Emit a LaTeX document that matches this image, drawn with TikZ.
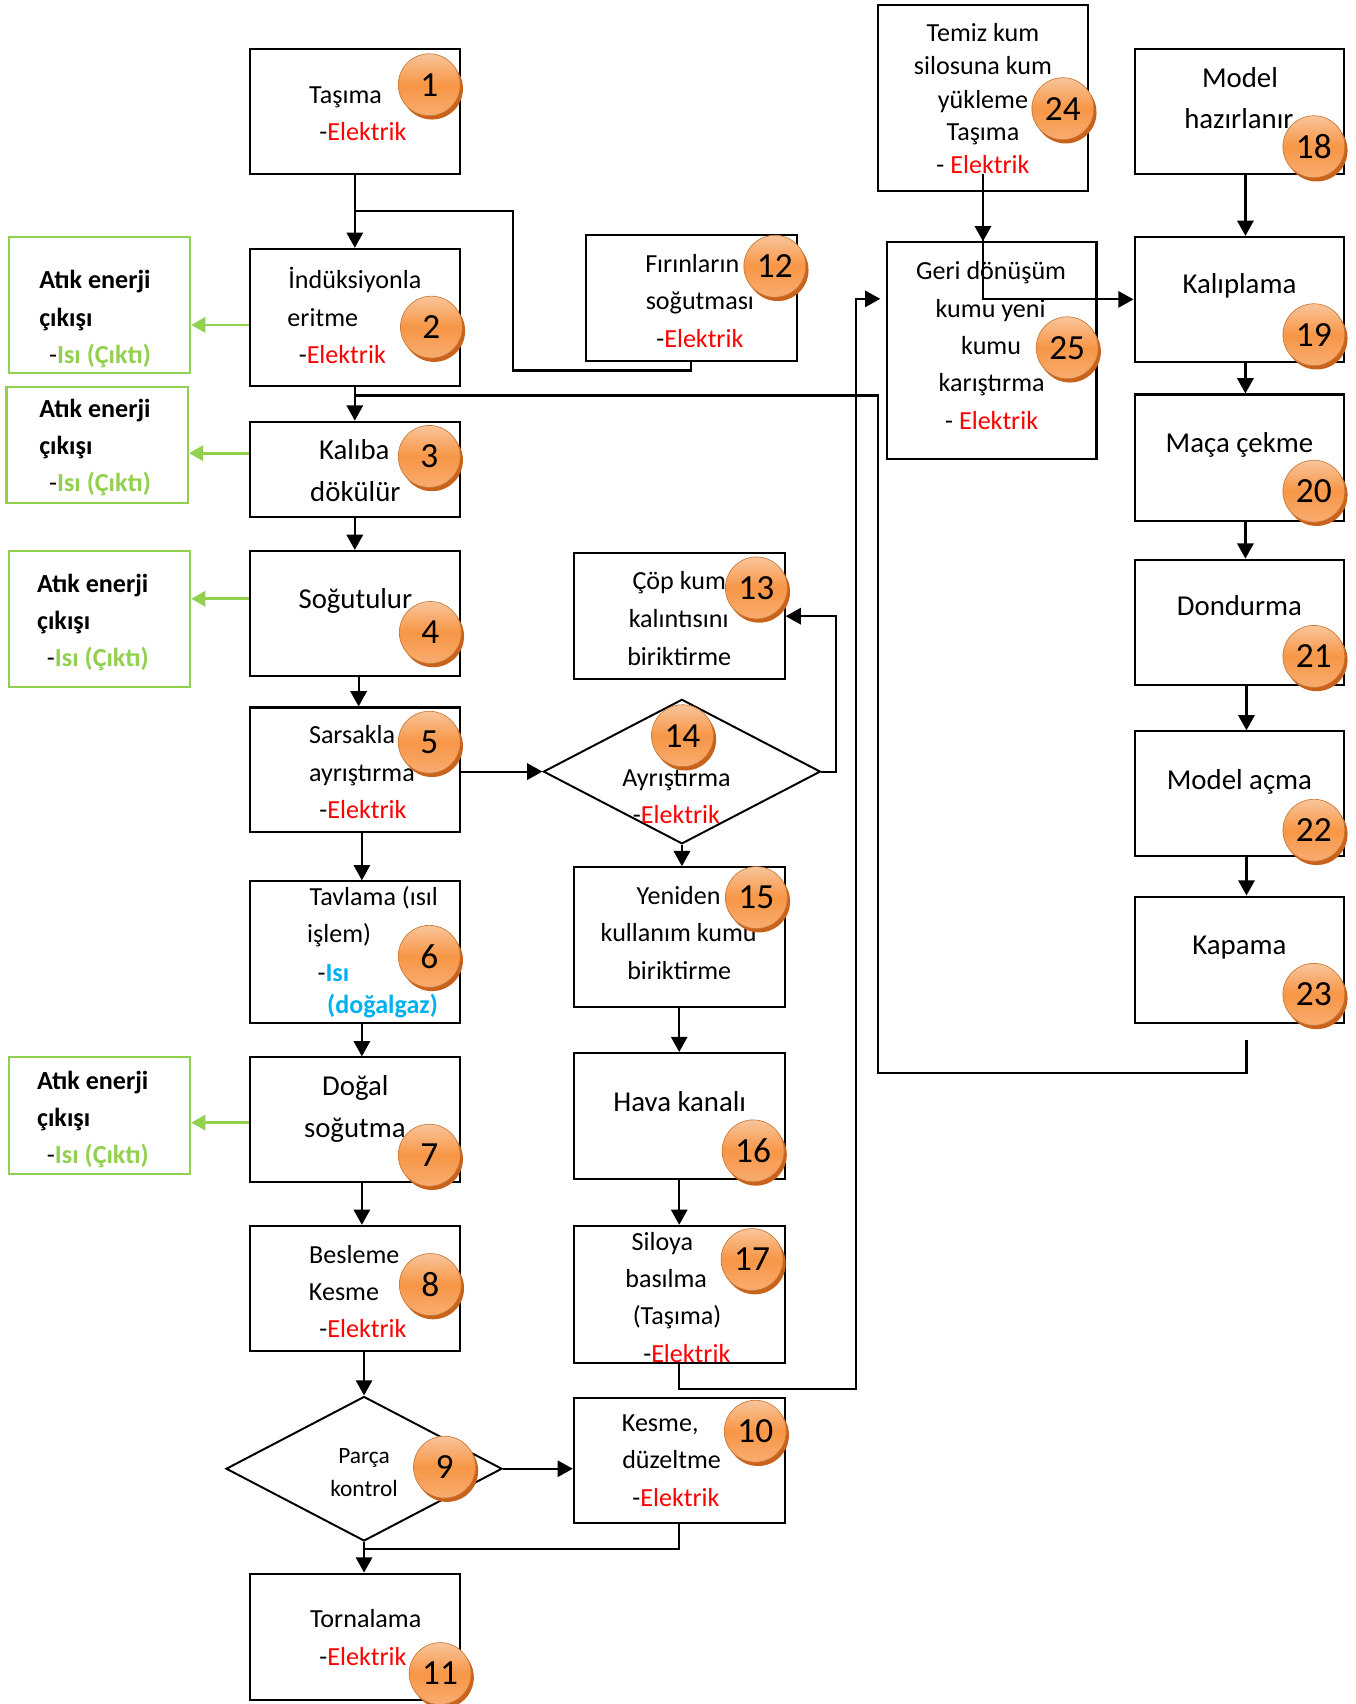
\documentclass[tikz,border=0pt]{standalone}
\usepackage{fontspec}
\setmainfont{Carlito}
\usetikzlibrary{arrows.meta,shapes.geometric,shadows}
\definecolor{elred}{HTML}{FF0000}
\definecolor{heatgreen}{HTML}{92D050}
\definecolor{gasblue}{HTML}{00B0F0}
\definecolor{orA}{HTML}{F9C49A}
\definecolor{orB}{HTML}{F79646}
\definecolor{orC}{HTML}{F8AC70}
\definecolor{orD}{HTML}{C9621A}
\newcommand\El{-\textcolor{elred}{Elektrik}}
\newcommand\Heat{\mdseries-\textcolor{heatgreen}{\bfseries Isı (Çıktı)}}
\newcommand\bx[6][]{\node[box,#1,minimum width={(#5)-(#3)},minimum height={(#6)-(#4)}] (#2) at ({((#3)+(#5))/2},{((#4)+(#6))/2}) {};}
\newcommand\tx[5][]{\node[txt,#1] (#2) at (#3,{#4+8.5}) {#5};}
\newcommand\nb[4]{\node[numc] (#1) at (#2,#3) {#4};}
\tikzset{
  box/.style={draw=black,line width=1.9pt,inner sep=0pt},
  gbox/.style={draw=heatgreen,line width=2pt,inner sep=0pt},
  txt/.style={anchor=base,inner sep=0pt,font=\fontsize{24}{29}\selectfont},
  big/.style={font=\fontsize{26.5}{32}\selectfont},
  small/.style={font=\fontsize{21.5}{26}\selectfont},
  gtxt/.style={anchor=base west,inner sep=0pt,font=\fontsize{24}{29}\selectfont\bfseries},
  numc/.style={circle,minimum size=57pt,inner sep=0pt,draw=orB!80!black,line width=0.6pt,
    top color=orA,bottom color=orC,middle color=orB,
    drop shadow={shadow xshift=2.5pt,shadow yshift=-3.5pt,fill=orD,opacity=1},
    font=\fontsize{32.5}{33}\selectfont},
  conn/.style={draw=black,line width=2pt},
  arr/.style={conn,-{Triangle[length=14pt,width=15pt]}},
  garr/.style={draw=heatgreen,line width=2.5pt,-{Triangle[length=13pt,width=14pt]}}
}
\begin{document}
\begin{tikzpicture}[x=1pt,y=-1pt]
\useasboundingbox (0,0) rectangle (1247,1568);
% ---- boxes ----
\bx{b1}{230}{45}{423}{160}
\bx{b2}{230}{229}{423}{355}
\bx{b3}{230}{388}{423}{476}
\bx{b4}{230}{507}{423}{622}
\bx{b5}{230}{651}{423}{766}
\bx{b6}{230}{811}{423}{941}
\bx{b7}{230}{973}{423}{1088}
\bx{b8}{230}{1128}{423}{1243}
\node[diamond,draw=black,line width=1.8pt,inner sep=0pt,minimum width=254pt,minimum height=133pt] (d9) at (335,1351.5) {};
\bx{b10}{528}{1286}{722}{1401}
\bx{b11}{230}{1448}{423}{1564}
\bx{b12}{539}{216}{733}{332}
\bx{b13}{528}{509}{722}{625}
\node[diamond,draw=black,line width=1.8pt,inner sep=0pt,minimum width=255pt,minimum height=133pt] (d14) at (627.5,710) {};
\bx{b15}{528}{798}{722}{927}
\bx{b16}{528}{969}{722}{1085}
\bx{b17}{528}{1128}{722}{1254}
\bx{b24}{808}{5}{1001}{176}
\bx{b25}{816}{223}{1009}{422}
\bx{b18}{1044}{45}{1237}{160}
\bx{b19}{1044}{218}{1237}{333}
\bx{b20}{1044}{363}{1237}{479}
\bx{b21}{1044}{515}{1237}{630}
\bx{b22}{1044}{673}{1237}{788}
\bx{b23}{1044}{825}{1237}{941}
\bx[gbox]{g1}{8}{218}{175}{343}
\bx[gbox]{g2}{6}{356}{173}{463}
\bx[gbox]{g3}{8}{507}{175}{632}
\bx[gbox]{g4}{8}{973}{175}{1080}
% ---- texts ----
\tx{t1a}{318}{87}{Taşıma}
\tx{t1b}{334}{121}{\El}
\tx{t2a}{326.5}{257}{İndüksiyonla}
\tx{t2b}{297}{292}{eritme}
\tx{t2c}{315}{326}{\El}
\tx[big]{t3a}{326}{414}{Kalıba}
\tx[big]{t3b}{327}{453}{dökülür}
\tx[big]{t4a}{327}{551}{Soğutulur}
\tx{t5a}{324}{676}{Sarsakla}
\tx{t5b}{333}{711}{ayrıştırma}
\tx{t5c}{334}{745}{\El}
\tx{t6a}{344}{825}{Tavlama (ısıl}
\tx{t6b}{312}{859}{işlem)}
\tx[anchor=base west]{t6c}{292}{895}{-\textcolor{gasblue}{\bfseries Isı}}
\tx{t6d}{352}{924}{\textcolor{gasblue}{\bfseries (doğalgaz)}}
\tx[big]{t7a}{327}{1000}{Doğal}
\tx[big]{t7b}{326.5}{1038}{soğutma}
\tx{t8a}{326}{1154}{Besleme}
\tx{t8b}{316.5}{1188}{Kesme}
\tx{t8c}{334}{1222}{\El}
\tx[small]{t9a}{335}{1338}{Parça}
\tx[small]{t9b}{335}{1369}{kontrol}
\tx{t10a}{607.5}{1309}{Kesme,}
\tx{t10b}{618}{1343}{düzeltme}
\tx{t10c}{622}{1378}{\El}
\tx{t11a}{336.5}{1489}{Tornalama}
\tx{t11b}{334}{1524}{\El}
\tx{t12a}{637}{242}{Fırınların}
\tx{t12b}{644}{276}{soğutması}
\tx{t12c}{644}{311}{\El}
\tx{t13a}{625}{534}{Çöp kum}
\tx{t13b}{624.5}{569}{kalıntısını}
\tx{t13c}{625}{604}{biriktirme}
\tx{t14a}{622.5}{715}{Ayrıştırma}
\tx{t14b}{622.5}{749}{\El}
\tx{t15a}{624.5}{824}{Yeniden}
\tx{t15b}{624.5}{858}{kullanım kumu}
\tx{t15c}{625}{893}{biriktirme}
\tx[big]{t16a}{625.5}{1014}{Hava kanalı}
\tx{t17a}{609.5}{1142}{Siloya}
\tx{t17b}{613}{1176}{basılma}
\tx{t17c}{623}{1210}{(Taşıma)}
\tx{t17d}{632}{1245}{\El}
\tx{t24a}{904.5}{30}{Temiz kum}
\tx{t24b}{904.5}{60}{silosuna kum}
\tx{t24c}{904.5}{91}{yükleme}
\tx{t24d}{904.5}{121}{Taşıma}
\tx{t24e}{904.5}{151}{- \textcolor{elred}{Elektrik}}
\tx{t25a}{912}{249}{Geri dönüşüm}
\tx{t25b}{911.5}{284}{kumu yeni}
\tx{t25c}{912}{318}{kumu}
\tx{t25d}{912.5}{352}{karıştırma}
\tx{t25e}{912.5}{387}{- \textcolor{elred}{Elektrik}}
\tx[big]{t18a}{1141}{72}{Model}
\tx[big]{t18b}{1140}{110}{hazırlanır}
\tx[big]{t19a}{1140.5}{262}{Kalıplama}
\tx[big]{t20a}{1140.5}{408}{Maça çekme}
\tx[big]{t21a}{1140.5}{558}{Dondurma}
\tx[big]{t22a}{1140.5}{718}{Model açma}
\tx[big]{t23a}{1140.5}{870}{Kapama}
% green texts
\tx[gtxt]{g1a}{36}{257}{Atık enerji}
\tx[gtxt]{g1b}{36}{292}{çıkışı}
\tx[gtxt]{g1c}{45}{326}{\Heat}
\tx[gtxt]{g2a}{36}{376}{Atık enerji}
\tx[gtxt]{g2b}{36}{410}{çıkışı}
\tx[gtxt]{g2c}{45}{444}{\Heat}
\tx[gtxt]{g3a}{34}{537}{Atık enerji}
\tx[gtxt]{g3b}{34}{571}{çıkışı}
\tx[gtxt]{g3c}{43}{605}{\Heat}
\tx[gtxt]{g4a}{34}{994}{Atık enerji}
\tx[gtxt]{g4b}{34}{1028}{çıkışı}
\tx[gtxt]{g4c}{43}{1062}{\Heat}
% ---- connectors ----
\draw[arr] (b1.south) -- (b2.north);
\coordinate (j1) at (326.5,194);
\draw[conn] (j1) -| (472,341) -| (b12.south);
\draw[arr] (b2.south) -- (b3.north);
\coordinate (j2) at (326.5,364);
\coordinate (k23) at (1147,957);
\draw[conn] (j2) -| (808,987) -| (k23);
\draw[arr] (b3.south) -- (b4.north);
\draw[arr] ([xshift=3.5pt]b4.south) -- ([xshift=3.5pt]b5.north);
\draw[arr] ([xshift=6.5pt]b5.south) -- ([xshift=6.5pt]b6.north);
\draw[arr] ([xshift=6.5pt]b6.south) -- ([xshift=6.5pt]b7.north);
\draw[arr] ([xshift=6.5pt]b7.south) -- ([xshift=6.5pt]b8.north);
\draw[arr] ([xshift=8.5pt]b8.south) -- (d9.north);
\draw[arr] (d14.west -| b5.east) -- (d14.west);
\draw[arr] (d14.east) -- ++(13,0) |- (b13.east);
\draw[arr] (d14.south) -- (d14.south |- b15.north);
\draw[arr] (b15.south) -- (b16.north);
\draw[arr] (b16.south) -- (b17.north);
\coordinate (c25) at (810,275);
\draw[arr] (b17.south) |- (788,1278) |- (c25);
\draw[arr] (d9.east) -- (d9.east -| b10.west);
\coordinate (j9) at (335,1425);
\draw[conn] (b10.south) |- (j9);
\draw[arr] (d9.south) -- (d9.south |- b11.north);
\coordinate (s24) at (904.5,160);
\draw[arr] (s24) |- (b19.west);
\draw[arr] (s24) -- (s24 |- b25.north);
\draw[arr] ([xshift=5.5pt]b18.south) -- ([xshift=5.5pt]b19.north);
\draw[arr] ([xshift=5.5pt]b19.south) -- ([xshift=5.5pt]b20.north);
\draw[arr] ([xshift=5.5pt]b20.south) -- ([xshift=5.5pt]b21.north);
\draw[arr] ([xshift=6.5pt]b21.south) -- ([xshift=6.5pt]b22.north);
\draw[arr] ([xshift=6.5pt]b22.south) -- ([xshift=6.5pt]b23.north);
% green arrows
\coordinate (h2) at ([yshift=-7pt]b2.west);
\coordinate (h3) at ([yshift=15pt]b3.west);
\coordinate (h4) at ([yshift=13.5pt]b4.west);
\coordinate (h7) at ([yshift=-2.5pt]b7.west);
\draw[garr] (h2) -- (h2 -| g1.east);
\draw[garr] (h3) -- (h3 -| g2.east);
\draw[garr] (h4) -- (h4 -| g3.east);
\draw[garr] (h7) -- (h7 -| g4.east);
% ---- number badges ----
\nb{n1}{395}{78}{1}
\nb{n2}{397}{301}{2}
\nb{n3}{395}{420}{3}
\nb{n4}{396}{582}{4}
\nb{n5}{395}{683}{5}
\nb{n6}{395}{880}{6}
\nb{n7}{395}{1063}{7}
\nb{n8}{396}{1182}{8}
\nb{n9}{409}{1350}{9}
\nb{n10}{695}{1317}{10}
\nb{n11}{405}{1540}{11}
\nb{n12}{713}{245}{12}
\nb{n13}{696}{541}{13}
\nb{n14}{628}{677}{14}
\nb{n15}{696}{826}{15}
\nb{n16}{693}{1059}{16}
\nb{n17}{692}{1159}{17}
\nb{n18}{1209}{135}{18}
\nb{n19}{1209}{308}{19}
\nb{n20}{1209}{452}{20}
\nb{n21}{1209}{604}{21}
\nb{n22}{1209}{764}{22}
\nb{n23}{1209}{915}{23}
\nb{n24}{978}{100}{24}
\nb{n25}{982}{320}{25}
\end{tikzpicture}
\end{document}
